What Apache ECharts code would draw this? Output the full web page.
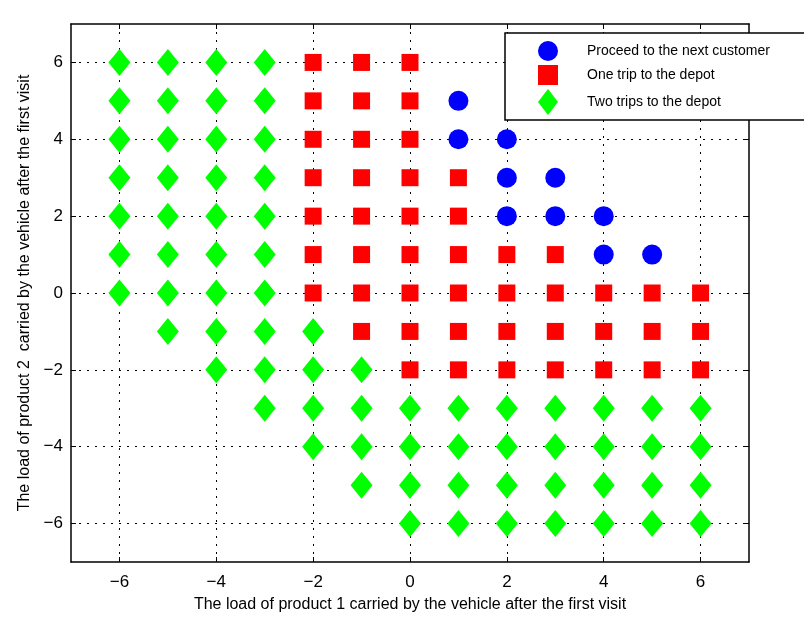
<!DOCTYPE html>
<html>
<head>
<meta charset="utf-8">
<script src="https://cdn.jsdelivr.net/npm/echarts@6/dist/echarts.min.js"></script>
<style>
  html, body { margin: 0; padding: 0; background: #fff; }
  #chart { width: 804px; height: 618px; }
</style>
</head>
<body>
<div id="chart"></div>
<script>
// Decision regions over the vehicle's residual loads (product 1, product 2)
const seriesNames = ['Proceed to the next customer', 'One trip to the depot', 'Two trips to the depot'];
const tickValues = [-6, -4, -2, 0, 2, 4, 6];

// Load of product 2 for each row, top to bottom
const rowLoads = [6, 5, 4, 3, 2, 1, 0, -1, -2, -3, -4, -5, -6];

// Product-1 loads in each row for each decision
const proceedX = [
  [], [1], [1, 2], [2, 3], [2, 3, 4], [4, 5], [], [], [], [], [], [], []
];
const oneTripX = [
  [-2, -1, 0],
  [-2, -1, 0],
  [-2, -1, 0],
  [-2, -1, 0, 1],
  [-2, -1, 0, 1],
  [-2, -1, 0, 1, 2, 3],
  [-2, -1, 0, 1, 2, 3, 4, 5, 6],
  [-1, 0, 1, 2, 3, 4, 5, 6],
  [0, 1, 2, 3, 4, 5, 6],
  [], [], [], []
];
const twoTripsX = [
  [-6, -5, -4, -3],
  [-6, -5, -4, -3],
  [-6, -5, -4, -3],
  [-6, -5, -4, -3],
  [-6, -5, -4, -3],
  [-6, -5, -4, -3],
  [-6, -5, -4, -3],
  [-5, -4, -3, -2],
  [-4, -3, -2, -1],
  [-3, -2, -1, 0, 1, 2, 3, 4, 5, 6],
  [-2, -1, 0, 1, 2, 3, 4, 5, 6],
  [-1, 0, 1, 2, 3, 4, 5, 6],
  [0, 1, 2, 3, 4, 5, 6]
];

function toPoints(rows) {
  const pts = [];
  rows.forEach((xs, i) => xs.forEach(x => pts.push([x, rowLoads[i]])));
  return pts;
}

const FONT = '"Liberation Sans", "DejaVu Sans", sans-serif';

const gridLine = { show: true, lineStyle: { color: '#000', type: [2, 6], width: 1 } };

function mainAxis(pos, name, nameGap, nameRotate, labelMargin) {
  return {
    type: 'value', position: pos, min: -7, max: 7,
    name: name, nameLocation: 'middle', nameGap: nameGap, nameRotate: nameRotate,
    nameTextStyle: { fontFamily: FONT, fontSize: 16, color: '#000' },
    axisLine: { show: true, onZero: false, lineStyle: { color: '#000', width: 1.5 } },
    axisTick: { show: true, inside: true, length: 5, customValues: tickValues, lineStyle: { color: '#000' } },
    axisLabel: { show: true, customValues: tickValues, fontFamily: FONT, fontSize: 17, color: '#000', margin: labelMargin,
      formatter: v => (v < 0 ? '\u2212' + Math.abs(v) : String(v)) },
    splitLine: gridLine
  };
}
function mirrorAxis(pos) {
  return {
    type: 'value', position: pos, min: -7, max: 7,
    axisLine: { show: true, onZero: false, lineStyle: { color: '#000', width: 1.5 } },
    axisTick: { show: true, inside: true, length: 5, customValues: tickValues, lineStyle: { color: '#000' } },
    axisLabel: { show: false },
    splitLine: { show: false }
  };
}

// Legend icon outlines (kept to their own aspect inside each legend slot)
const circleIcon = 'path://M20,10A10,10,0,1,1,0,10A10,10,0,1,1,20,10Z';
const squareIcon = 'path://M0,0L17,0L17,17L0,17Z';
const diamondIcon = 'path://M10,0L20,13L10,26L0,13Z';

const chart = echarts.init(document.getElementById('chart'), null, { renderer: 'canvas' });
chart.setOption({
  backgroundColor: '#fff',
  animation: false,
  grid: { left: 71, right: 55, top: 24, bottom: 55, containLabel: false },
  xAxis: [
    mainAxis('bottom', 'The load of product 1 carried by the vehicle after the first visit', 35, 0, 12),
    mirrorAxis('top')
  ],
  yAxis: [
    mainAxis('left', 'The load of product 2  carried by the vehicle after the first visit', 36, 90, 8),
    mirrorAxis('right')
  ],
  legend: {
    orient: 'vertical', left: 505, top: 33,
    padding: [8, 40, 5, 33],
    itemGap: 4, itemWidth: 20, itemHeight: 26,
    symbolKeepAspect: true,
    backgroundColor: '#fff', borderColor: '#000', borderWidth: 1.5, borderRadius: 0,
    textStyle: { fontFamily: FONT, fontSize: 14, color: '#000', padding: [0, 0, 0, 24] },
    data: [
      { name: seriesNames[0], icon: circleIcon },
      { name: seriesNames[1], icon: squareIcon },
      { name: seriesNames[2], icon: diamondIcon }
    ]
  },
  series: [
    { name: seriesNames[0], type: 'scatter', xAxisIndex: 0, yAxisIndex: 0,
      symbol: 'circle', symbolSize: 20, itemStyle: { color: '#0000ff', opacity: 1 },
      data: toPoints(proceedX) },
    { name: seriesNames[1], type: 'scatter', xAxisIndex: 0, yAxisIndex: 0,
      symbol: 'rect', symbolSize: 17, itemStyle: { color: '#ff0000', opacity: 1 },
      data: toPoints(oneTripX) },
    { name: seriesNames[2], type: 'scatter', xAxisIndex: 0, yAxisIndex: 0,
      symbol: 'diamond', symbolSize: [22, 27], itemStyle: { color: '#00ff00', opacity: 1 },
      data: toPoints(twoTripsX) }
  ]
});
</script>
</body>
</html>
